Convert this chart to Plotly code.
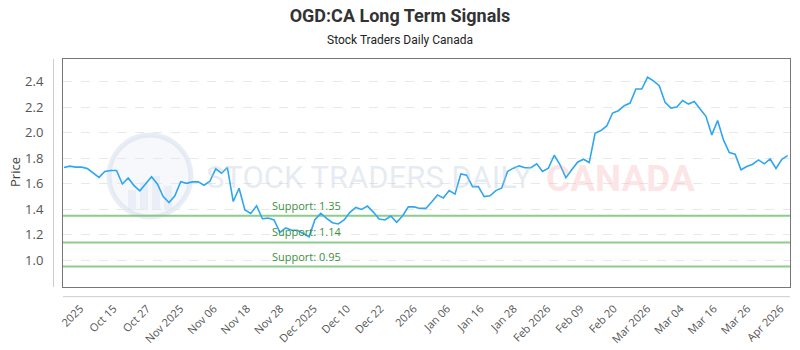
import plotly.graph_objects as go

# ---------------- data ----------------
prices = [
    1.728, 1.739, 1.731, 1.731, 1.720, 1.683, 1.651, 1.697, 1.705, 1.705,
    1.599, 1.646, 1.586, 1.545, 1.599, 1.656, 1.599, 1.500, 1.453, 1.506,
    1.617, 1.604, 1.615, 1.615, 1.589, 1.620, 1.718, 1.683, 1.728, 1.461,
    1.565, 1.394, 1.368, 1.427, 1.326, 1.331, 1.316, 1.218, 1.254, 1.236,
    1.236, 1.210, 1.184, 1.319, 1.368, 1.329, 1.295, 1.285, 1.316, 1.376,
    1.415, 1.399, 1.425, 1.378, 1.324, 1.316, 1.347, 1.298, 1.347, 1.419,
    1.419, 1.407, 1.407, 1.458, 1.513, 1.489, 1.547, 1.519, 1.678, 1.668,
    1.578, 1.578, 1.500, 1.506, 1.547, 1.568, 1.697, 1.723, 1.741, 1.726,
    1.726, 1.757, 1.697, 1.723, 1.824, 1.749, 1.648, 1.710, 1.770, 1.793,
    1.767, 1.997, 2.018, 2.054, 2.156, 2.174, 2.213, 2.234, 2.344, 2.344,
    2.437, 2.409, 2.370, 2.239, 2.195, 2.203, 2.254, 2.226, 2.246, 2.187,
    2.130, 1.984, 2.097, 1.945, 1.845, 1.832, 1.710, 1.736, 1.754, 1.788,
    1.757, 1.795, 1.720, 1.793, 1.821,
]
x_index = list(range(len(prices)))

tick_labels = ["2025", "Oct 15", "Oct 27", "Nov 2025", "Nov 06", "Nov 18", "Nov 28",
               "Dec 2025", "Dec 10", "Dec 22", "2026", "Jan 06", "Jan 16", "Jan 28",
               "Feb 2026", "Feb 09", "Feb 20", "Mar 2026", "Mar 04", "Mar 16",
               "Mar 26", "Apr 2026"]

support_levels = [1.35, 1.14, 0.95]
support_labels = ["Support: 1.35", "Support: 1.14", "Support: 0.95"]

y_ticks = [1.0, 1.2, 1.4, 1.6, 1.8, 2.0, 2.2, 2.4]

title_text = "OGD:CA Long Term Signals"
subtitle_text = "Stock Traders Daily Canada"
y_title = "Price"

# ---------------- layout constants ----------------
W, H = 800, 350
ML, MR, MT, MB = 63, 10, 59, 63
PW = W - ML - MR
PH = H - MT - MB
X_RANGE = [-0.17, 124.4]
Y_RANGE = [0.79, 2.58]

tick_start = 2.8
tick_step = 5.714
tick_vals = [tick_start + k * tick_step for k in range(len(tick_labels))]

def px_x(p):
    return (p - ML) / PW

def px_y(p):
    return (H - MB - p) / PH

fig = go.Figure()

# support lines
for lvl in support_levels:
    fig.add_trace(go.Scatter(
        x=[X_RANGE[0], X_RANGE[1]], y=[lvl, lvl], mode="lines",
        line=dict(color="rgba(120,195,120,0.85)", width=2),
        hoverinfo="skip", showlegend=False))

# price line
fig.add_trace(go.Scatter(
    x=x_index, y=prices, mode="lines",
    line=dict(color="#2ea6f0", width=1.6),
    showlegend=False))

shapes = []
# watermark logo circle
cx, cy, r = 150, 176, 41
shapes.append(dict(type="circle", xref="paper", yref="paper",
                   x0=px_x(cx - r), x1=px_x(cx + r), y0=px_y(cy + r), y1=px_y(cy - r),
                   line=dict(color="rgba(200,212,232,0.4)", width=5),
                   fillcolor="rgba(225,233,245,0.3)", layer="below"))
# watermark bars inside logo
for bx, btop in [(128, 190), (140, 182), (152, 176), (164, 186)]:
    shapes.append(dict(type="rect", xref="paper", yref="paper",
                       x0=px_x(bx), x1=px_x(bx + 8), y0=px_y(210), y1=px_y(btop),
                       line=dict(width=0), fillcolor="rgba(205,215,232,0.3)", layer="below"))

# separated y axis line (left)
shapes.append(dict(type="line", xref="paper", yref="paper",
                   x0=px_x(53.5), x1=px_x(53.5), y0=0, y1=1,
                   line=dict(color="#cccccc", width=1)))
# separated x axis line (bottom)
shapes.append(dict(type="line", xref="paper", yref="paper",
                   x0=0, x1=1, y0=px_y(296.7), y1=px_y(296.7),
                   line=dict(color="#cccccc", width=1)))

annotations = []
# watermark texts
annotations.append(dict(text="STOCK TRADERS DAILY", xref="paper", yref="paper",
                        x=px_x(204), y=px_y(177), xanchor="left", yanchor="middle",
                        showarrow=False,
                        font=dict(family="Roboto", size=31,
                                  color="rgba(185,198,220,0.35)")))
annotations.append(dict(text="<b>CANADA</b>", xref="paper", yref="paper",
                        x=px_x(544), y=px_y(178), xanchor="left", yanchor="middle",
                        showarrow=False,
                        font=dict(family="Roboto", size=37,
                                  color="rgba(245,165,172,0.3)")))

# support labels
for lvl, lab in zip(support_levels, support_labels):
    annotations.append(dict(text=lab, xref="paper", yref="y",
                            x=px_x(270), y=lvl, xanchor="left", yanchor="bottom",
                            yshift=1, showarrow=False,
                            font=dict(family="Open Sans", size=11, color="#3d8f3d")))

# subtitle
annotations.append(dict(text=subtitle_text, xref="paper", yref="paper",
                        x=px_x(400), y=px_y(40), xanchor="center", yanchor="middle",
                        showarrow=False,
                        font=dict(family="Roboto", size=12, color="#222222")))
# y axis title
annotations.append(dict(text=y_title, xref="paper", yref="paper",
                        x=px_x(15), y=px_y(172), xanchor="center", yanchor="middle",
                        textangle=-90, showarrow=False,
                        font=dict(family="Open Sans", size=13, color="#444444")))

fig.update_layout(
    width=W, height=H,
    margin=dict(l=ML, r=MR, t=MT, b=MB, autoexpand=False),
    paper_bgcolor="white", plot_bgcolor="white",
    title=dict(text="<b>" + title_text + "</b>", x=0.5, xref="container", xanchor="center",
               y=1 - 16 / H, yanchor="middle",
               font=dict(family="Roboto", size=18, color="#333333")),
    xaxis=dict(range=X_RANGE, tickmode="array", tickvals=tick_vals, ticktext=tick_labels,
               tickangle=-45, showgrid=False, zeroline=False, automargin=False,
               showline=True, mirror=True, linecolor="#777777", linewidth=1,
               ticks="", ticklabelstandoff=10,
               tickfont=dict(family="Open Sans", size=11, color="#555555")),
    yaxis=dict(range=Y_RANGE, tickmode="array", tickvals=y_ticks, tickformat=".1f",
               showgrid=True, gridcolor="#e8e8e8", griddash="dash", gridwidth=1,
               zeroline=False, showline=True, mirror=True, linecolor="#777777", linewidth=1,
               ticks="", ticklabelstandoff=16, automargin=False,
               tickfont=dict(family="Open Sans", size=13, color="#555555")),
    shapes=shapes,
    annotations=annotations,
    hovermode=False,
)

fig.write_html("out.html")
